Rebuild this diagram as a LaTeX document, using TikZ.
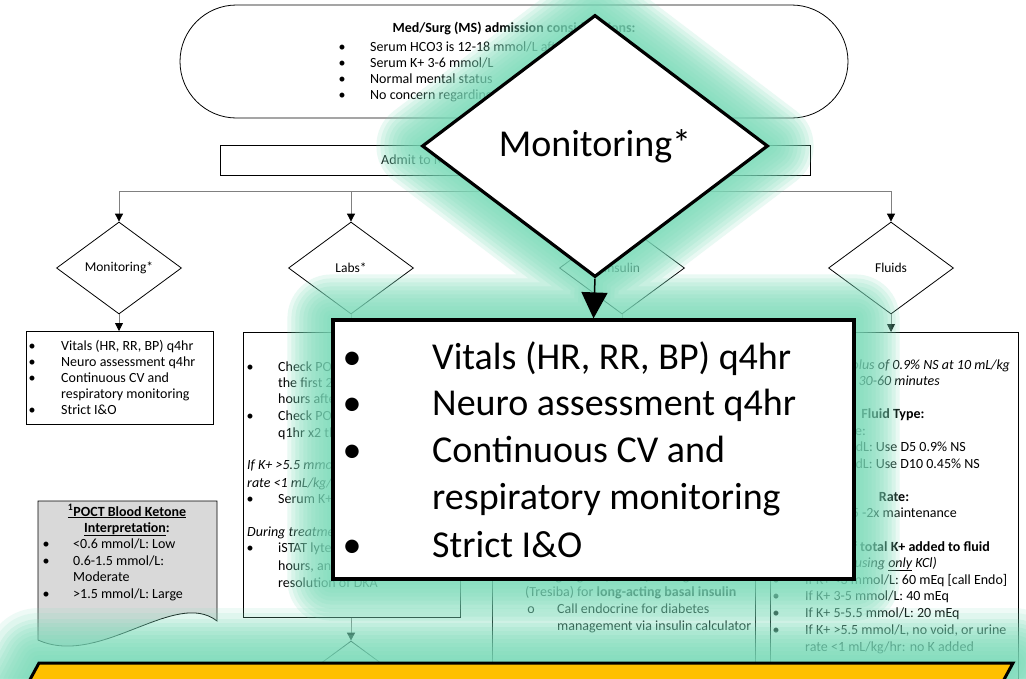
\documentclass[tikz,border=0pt]{standalone}
\usepackage{fontspec}
\setmainfont{Carlito}
\usetikzlibrary{shapes.geometric,shapes.misc,arrows.meta,calc}
\pgfdeclarelayer{bg}
\pgfdeclarelayer{glowlayer}
\pgfsetlayers{bg,glowlayer,main}
\definecolor{mint}{RGB}{122,220,186}
\definecolor{docgray}{RGB}{217,217,217}
\definecolor{connc}{RGB}{128,128,128}
\definecolor{amber}{RGB}{255,192,0}
\tikzset{
 sm/.style={font=\fontsize{14}{16}\selectfont, inner sep=0pt, anchor=base west},
 smc/.style={font=\fontsize{14}{16}\selectfont, inner sep=0pt, anchor=base},
 sme/.style={font=\fontsize{14}{16}\selectfont, inner sep=0pt, anchor=base east},
 bigt/.style={font=\fontsize{38}{47}\selectfont, inner sep=0pt, anchor=base west},
 bigb/.style={font=\fontsize{38}{47}\selectfont, inner sep=0pt, anchor=base},
 dia/.style={draw, diamond, minimum width=125, minimum height=92, inner sep=0pt, line width=0.8, fill=white, font=\fontsize{13.5}{16}\selectfont},
 boxx/.style={draw, line width=0.8, fill=white, inner sep=0pt, anchor=north west},
 connl/.style={draw=connc, line width=0.8},
 arr/.style={-{Triangle[length=8,width=8,color=black]}},
}
\newcommand{\bitem}[5]{\node[smc] (#1b) at (#2,#4) {•}; \node[sm] (#1) at (#3,#4) {#5};}
\begin{document}
\begin{tikzpicture}[x=1pt,y=-1pt]
\useasboundingbox (0,0) rectangle (1026,678);
\begin{pgfonlayer}{bg}
\clip (0,0) rectangle (1026,678);
\fill[white] (0,0) rectangle (1026,678);
% top terminal
\node[draw, rounded rectangle, minimum width=668, minimum height=113, line width=0.8, inner sep=0pt] (ms) at (514,61.5) {};
\node[smc] (mst) at (514,32) {\bfseries Med/Surg (MS) admission considerations:};
\bitem{ms1}{342}{370}{51}{Serum HCO3 is 12-18 mmol/L after}
\bitem{ms2}{342}{370}{67}{Serum K+ 3-6 mmol/L}
\bitem{ms3}{342}{370}{83}{Normal mental status}
\bitem{ms4}{342}{370}{99}{No concern regarding airway}
% admit box
\node[boxx, minimum width=590, minimum height=30] (admit) at (220,145) {};
\node[sm] (admitt) at (381,164.5) {Admit to MS};
% tree
\coordinate (jc) at (515,191);
\coordinate (jl) at (119,191);
\coordinate (jr) at (891,191);
\draw[connl] (admit.south) -- (jc);
\draw[connl] (jl) -- (jr);
% diamonds
\node[dia] (monD) at (119,268) {Monitoring*};
\node[dia] (labD) at (351,268) {Labs*};
\node[dia] (insD) at (622,268) {Insulin};
\node[dia] (fluD) at (891,268) {Fluids};
\foreach \d in {monD,labD,insD,fluD} \draw[connl,arr] (\d.north |- jc) -- (\d.north);
% boxes
\node[boxx, minimum width=187, minimum height=93] (monB) at (26,331) {};
\node[boxx, minimum width=217, minimum height=285] (labB) at (243,332) {};
\node[boxx, minimum width=263, minimum height=420] (insB) at (492,332) {};
\node[boxx, minimum width=248, minimum height=420] (fluB) at (770,332) {};
\draw[connl,arr] (monD.south) -- (monD.south |- monB.north);
\draw[connl,arr] (labD.south) -- (labD.south |- labB.north);
\draw[connl,arr] (insD.south) -- (insD.south |- insB.north);
\draw[connl,arr] (fluD.south) -- (fluD.south |- fluB.north);
\node[dia] (labD2) at (351,687) {};
\draw[connl,arr] (labB.south -| labD2.north) -- (labD2.north);
% monitoring text
\bitem{m1}{32}{61}{350}{Vitals (HR, RR, BP) q4hr}
\bitem{m2}{32}{61}{366}{Neuro assessment q4hr}
\bitem{m3}{32}{61}{382}{Continuous CV and}
\node[sm] (m3b2) at (61,398) {respiratory monitoring};
\bitem{m4}{32}{61}{414.5}{Strict I\&O}
% labs text (right parts lie under the callout)
\bitem{l1}{250}{278}{371}{Check POCT}
\node[sm] (l1c) at (278,387) {the first 24};
\node[sm] (l1d) at (278,403) {hours after};
\bitem{l2}{250}{278}{420}{Check POCT}
\node[sm] (l2c) at (278,437) {q1hr x2 then};
\node[sm] (l3) at (247,469) {\itshape If K+ >5.5 mmol};
\node[sm] (l3c) at (247,487) {\itshape rate <1 mL/kg/hr};
\bitem{l4}{250}{278}{503}{Serum K+ q2};
\node[sm] (l5) at (247,536) {\itshape During treatment};
\bitem{l6}{250}{278}{552}{iSTAT lytes};
\node[sm] (l6c) at (278,570) {hours, and};
\node[sm] (l6d) at (278,587) {resolution of DKA};
% insulin text
\node[sm] (i0) at (525,580) {Start glargine (Lantus) or degludec};
\node[sm] (i1) at (525,596) {(Tresiba) for \textbf{long-acting basal insulin}};
\node[smc] (i2b) at (531,613) {o};
\node[sm] (i2) at (557,613) {Call endocrine for diabetes};
\node[sm] (i2c) at (557,630) {management via insulin calculator};
% fluids text
\node[sme] (f1) at (1010,369) {\itshape Bolus of 0.9\% NS at 10 mL/kg};
\node[sme] (f2) at (940,385) {\itshape over 30-60 minutes};
\node[smc] (f3) at (893,418) {\bfseries Fluid Type:};
\node[sme] (f4) at (866,435) {Glucose:};
\node[sme] (f5) at (966,451) {BG <250 mg/dL: Use D5 0.9\% NS};
\node[sme] (f6) at (980,468) {BG <150 mg/dL: Use D10 0.45\% NS};
\node[smc] (f7) at (894,501) {\bfseries Rate:};
\node[sme] (f8) at (957,517) {1.5 -2x maintenance};
\node[sme] (f9) at (990,551) {\bfseries Amount of total K+ added to fluid};
\node[sme] (f10) at (937,567) {\itshape (using \underline{only} KCl)};
\bitem{f11}{776}{805}{584}{If K+ <3 mmol/L: 60 mEq [call Endo]}
\bitem{f12}{776}{805}{600}{If K+ 3-5 mmol/L: 40 mEq}
\bitem{f13}{776}{805}{617}{If K+ 5-5.5 mmol/L: 20 mEq}
\bitem{f14}{776}{805}{634}{If K+ >5.5 mmol/L, no void, or urine}
\node[sm] (f15) at (805,651) {rate <1 mL/kg/hr: no K added};
% ketone document shape
\draw[fill=docgray, line width=0.8] (38,501) -- (217,501) -- (217,621) .. controls (175,588) and (100,668) .. (38,640) -- cycle;
\node[smc] (k1) at (127,516) {\bfseries\underline{\textsuperscript{1}POCT Blood Ketone}};
\node[smc] (k2) at (127,532) {\bfseries\underline{Interpretation}:};
\bitem{k3}{46}{73}{548}{<0.6 mmol/L: Low}
\bitem{k4}{46}{73}{565}{0.6-1.5 mmol/L:}
\node[sm] (k4c) at (73,581) {Moderate};
\bitem{k5}{46}{73}{598}{>1.5 mmol/L: Large}
\end{pgfonlayer}
% ---------- overlay ----------
\coordinate (y1) at (39,663);
\coordinate (y2) at (1013,663);
\coordinate (y3) at (982,720);
\coordinate (y4) at (8,720);
\node[draw, diamond, minimum width=346, minimum height=262, inner sep=0pt, line width=3.2, fill=white, font=\fontsize{38}{46}\selectfont] (bigD) at (595,146) {Monitoring*};
\node[draw, line width=3.2, fill=white, minimum width=521, minimum height=259, inner sep=0pt] (bigB) at (593.5,449.5) {};
\draw[line width=1.5, -{Triangle[length=26,width=26]}] (bigD.south) -- (bigB.north);
\begin{pgfonlayer}{glowlayer}
\clip (0,0) rectangle (1026,678);
\foreach \w in {88,80,...,8} {
  \draw[mint, line width=\w, opacity=0.16, line join=round]
    (bigD.north) -- (bigD.east) -- (bigD.south) -- (bigD.west) -- cycle
    (bigB.north west) rectangle (bigB.south east)
    (bigD.south) -- (bigB.north)
    (y1) -- (y2) -- (y3) -- (y4) -- cycle;
}
\foreach \w in {110,100} {
  \draw[mint, line width=\w, opacity=0.12, line join=round]
    (y1) -- (y2) -- (y3) -- (y4) -- cycle;
}
\end{pgfonlayer}
\node[bigb] (b1b) at (352,369) {•};
\node[bigt] (b1) at (432,369) {Vitals (HR, RR, BP) q4hr};
\node[bigb] (b2b) at (352,415) {•};
\node[bigt] (b2) at (432,415) {Neuro assessment q4hr};
\node[bigb] (b3b) at (352,462) {•};
\node[bigt] (b3) at (432,462) {Continuous CV and};
\node[bigt] (b3c) at (432,509) {respiratory monitoring};
\node[bigb] (b4b) at (352,557) {•};
\node[bigt] (b4) at (432,557) {Strict I\&O};
\draw[fill=amber, line width=3] (y1) -- (y2) -- (y3) -- (y4) -- cycle;
\end{tikzpicture}
\end{document}
